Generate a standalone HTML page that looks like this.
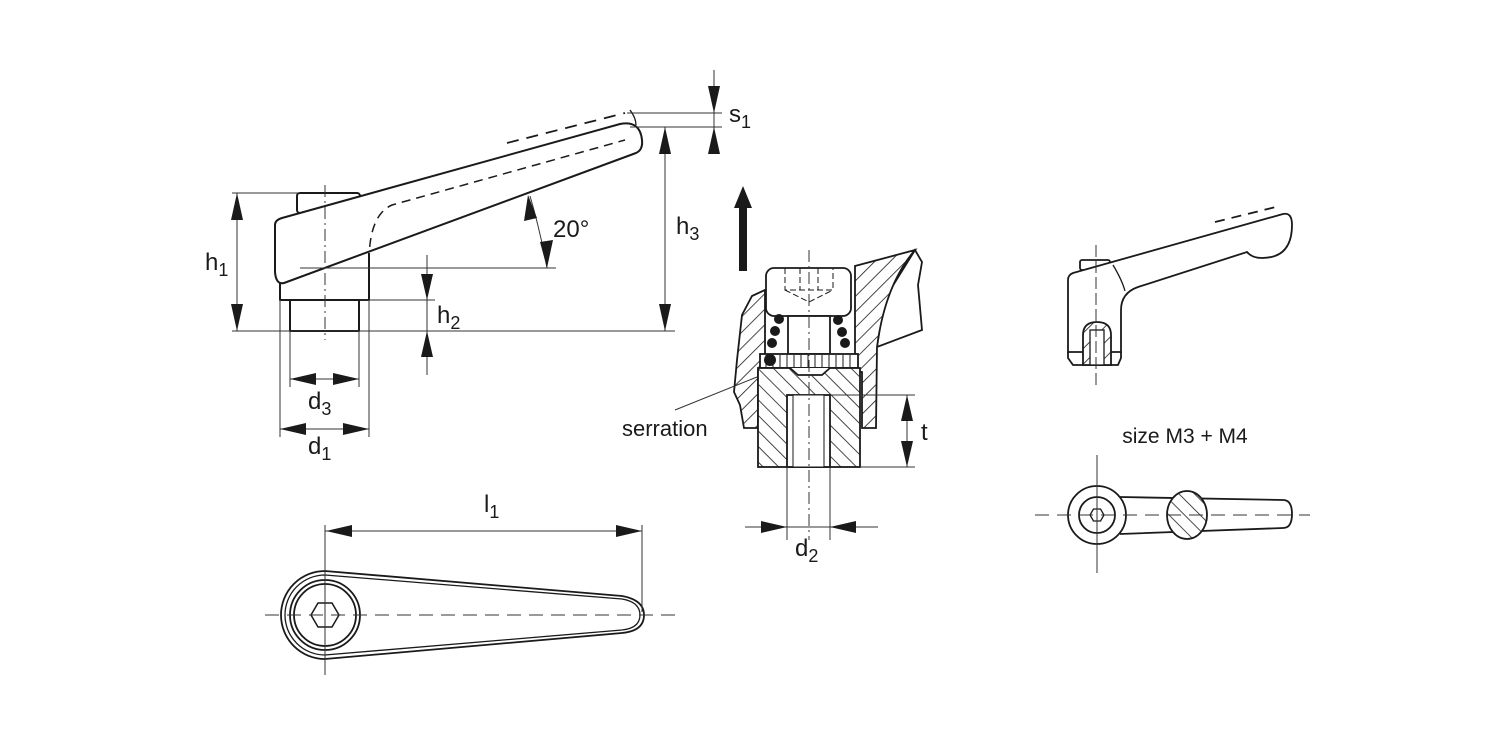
<!DOCTYPE html>
<html><head><meta charset="utf-8"><style>
html,body{margin:0;padding:0;background:#fff;}
svg{display:block}
text{font-family:"Liberation Sans",sans-serif;fill:#1a1a1a}
</style></head><body>
<svg width="1500" height="750" viewBox="0 0 1500 750" xmlns="http://www.w3.org/2000/svg">
<defs>
<pattern id="h" patternUnits="userSpaceOnUse" width="11" height="11" patternTransform="rotate(45)">
<rect width="11" height="11" fill="#fff"/><line x1="0" y1="0" x2="0" y2="11" stroke="#1a1a1a" stroke-width="1.6"/></pattern>
<pattern id="h2" patternUnits="userSpaceOnUse" width="11" height="11" patternTransform="rotate(-45)">
<rect width="11" height="11" fill="#fff"/><line x1="0" y1="0" x2="0" y2="11" stroke="#1a1a1a" stroke-width="1.6"/></pattern>
</defs>
<g fill="none" stroke="#1a1a1a" stroke-width="2" stroke-linejoin="round">
<rect x="297" y="193" width="63" height="20" rx="3" fill="#fff"/>
<path d="M282,218 L620,124 Q640,120 642,140 Q643,150 636,153 L284,283 Q276,285 275,272 L275,225 Q275,220 282,218 Z" fill="#fff"/>
<path d="M280,283 L280,300 L369,300 L369,253"/>
<rect x="290" y="300" width="69" height="31"/>
<path d="M369,262 Q369,215 392,205 L625,140" stroke-width="1.5" stroke-dasharray="9,6"/>
<path d="M507,143 L625,113" stroke-width="1.8" stroke-dasharray="12,8"/>
<path d="M630,110 Q636,118 636,125" stroke-width="1.3"/>
</g>
<g stroke="#333" stroke-width="1" fill="none">
<line x1="325" y1="185" x2="325" y2="340" stroke-dasharray="12,4,2,4"/>
<line x1="232" y1="193" x2="300" y2="193"/>
<line x1="232" y1="331" x2="675" y2="331"/>
<line x1="237" y1="193" x2="237" y2="331"/>
<line x1="300" y1="268" x2="556" y2="268"/>
<path d="M530,196 Q540,230 547,268"/>
<line x1="360" y1="300" x2="435" y2="300"/>
<line x1="427" y1="255" x2="427" y2="375"/>
<line x1="630" y1="127" x2="722" y2="127"/>
<line x1="627" y1="113" x2="722" y2="113"/>
<line x1="665" y1="127" x2="665" y2="331"/>
<line x1="714" y1="70" x2="714" y2="152"/>
<line x1="280" y1="300" x2="280" y2="437"/>
<line x1="369" y1="300" x2="369" y2="437"/>
<line x1="290" y1="331" x2="290" y2="387"/>
<line x1="359" y1="331" x2="359" y2="387"/>
<line x1="290" y1="379" x2="359" y2="379"/>
<line x1="280" y1="429" x2="369" y2="429"/>
</g>
<g fill="#1a1a1a">
<polygon points="237,193 231,220 243,220"/><polygon points="237,331 231,304 243,304"/>
<polygon points="528,195 524,221 537,218"/><polygon points="547,268 540,242 553,240"/>
<polygon points="427,300 421,274 433,274"/><polygon points="427,331 421,357 433,357"/>
<polygon points="665,127 659,154 671,154"/><polygon points="665,331 659,304 671,304"/>
<polygon points="714,113 708,86 720,86"/><polygon points="714,127 708,154 720,154"/>
<polygon points="290,379 316,373 316,385"/><polygon points="359,379 333,373 333,385"/>
<polygon points="280,429 306,423 306,435"/><polygon points="369,429 343,423 343,435"/>
</g>
<text x="205" y="270" font-size="24">h<tspan font-size="18" dy="6">1</tspan></text>
<text x="553" y="237" font-size="24">20°</text>
<text x="437" y="323" font-size="24">h<tspan font-size="18" dy="6">2</tspan></text>
<text x="676" y="234" font-size="24">h<tspan font-size="18" dy="6">3</tspan></text>
<text x="729" y="122" font-size="24">s<tspan font-size="18" dy="6">1</tspan></text>
<text x="308" y="409" font-size="24">d<tspan font-size="18" dy="6">3</tspan></text>
<text x="308" y="454" font-size="24">d<tspan font-size="18" dy="6">1</tspan></text>

<g fill="none" stroke="#1a1a1a" stroke-width="1.8">
<path d="M325,571 L622,596 Q644,600 644,615 Q644,631 622,633 L325,659 A44,44 0 0 1 325,571 Z"/>
<path d="M325,575 L622,599 Q640,602 640,615 Q640,628 622,630 L325,655 A40,40 0 0 1 325,575 Z" stroke-width="1.3"/>
<circle cx="325" cy="615" r="35"/><circle cx="325" cy="615" r="31"/>
<polygon points="311,615 318,603 332,603 339,615 332,627 318,627" stroke-width="1.5"/>
</g>
<g stroke="#333" stroke-width="1" fill="none">
<line x1="265" y1="615" x2="680" y2="615" stroke-dasharray="14,8"/>
<line x1="325" y1="525" x2="325" y2="675"/>
<line x1="642" y1="525" x2="642" y2="612"/>
<line x1="325" y1="531" x2="642" y2="531"/>
</g>
<g fill="#1a1a1a"><polygon points="326,531 352,525 352,537"/><polygon points="642,531 616,525 616,537"/></g>
<text x="484" y="512" font-size="24">l<tspan font-size="18" dy="6">1</tspan></text>

<polygon points="743,186 734,208 739,208 739,271 747,271 747,208 752,208" fill="#1a1a1a"/>
<g stroke="#1a1a1a" stroke-width="1.8">
<polygon points="915,250 922,262 918,285 922,330 877,347 884,300" fill="#fff"/>
<path d="M855,266 L915,250 Q885,285 877,347 L876,428 L862,428 L862,372 L855,372 Z" fill="url(#h)"/>
<polygon points="765,290 752,296 742,315 737,360 734,392 740,405 744,428 758,428 758,370 765,356" fill="url(#h)"/>
<rect x="766" y="268" width="85" height="48" rx="8" fill="#fff"/>
<rect x="788" y="316" width="42" height="38" fill="#fff"/>
<rect x="760" y="354" width="98" height="14" fill="#fff"/>
<rect x="758" y="368" width="102" height="99" fill="url(#h2)"/>
<path d="M790,368 L798,375 L822,375 L830,368" fill="#fff"/>
<rect x="787" y="395" width="43" height="72" fill="#fff"/>
<rect x="793" y="395" width="31" height="72" fill="#fff" stroke-width="1"/>
</g>
<g stroke="#1a1a1a" stroke-width="1">
<line x1="766" y1="355" x2="766" y2="367"/><line x1="773" y1="355" x2="773" y2="367"/><line x1="780" y1="355" x2="780" y2="367"/><line x1="787" y1="355" x2="787" y2="367"/><line x1="794" y1="355" x2="794" y2="367"/><line x1="801" y1="355" x2="801" y2="367"/><line x1="808" y1="355" x2="808" y2="367"/><line x1="815" y1="355" x2="815" y2="367"/><line x1="822" y1="355" x2="822" y2="367"/><line x1="829" y1="355" x2="829" y2="367"/><line x1="836" y1="355" x2="836" y2="367"/><line x1="843" y1="355" x2="843" y2="367"/><line x1="850" y1="355" x2="850" y2="367"/>
<path d="M785,268 L785,290 L833,290 L833,268 M800,268 L800,290 M818,268 L818,290 M785,290 L809,302 L833,290" fill="none" stroke-dasharray="6,3"/>
</g>
<g fill="#1a1a1a">
<circle cx="779" cy="319" r="5"/><circle cx="775" cy="331" r="5"/><circle cx="772" cy="343" r="5"/><circle cx="770" cy="360" r="6"/>
<circle cx="838" cy="320" r="5"/><circle cx="842" cy="332" r="5"/><circle cx="845" cy="343" r="5"/>
</g>
<g stroke="#333" stroke-width="1" fill="none">
<line x1="809" y1="250" x2="809" y2="540" stroke-dasharray="12,4,2,4"/>
<line x1="830" y1="395" x2="915" y2="395"/>
<line x1="860" y1="467" x2="915" y2="467"/>
<line x1="907" y1="395" x2="907" y2="467"/>
<line x1="787" y1="467" x2="787" y2="540"/>
<line x1="830" y1="467" x2="830" y2="540"/>
<line x1="745" y1="527" x2="878" y2="527"/>
<line x1="675" y1="410" x2="757" y2="377"/>
</g>
<g fill="#1a1a1a">
<polygon points="907,395 901,421 913,421"/><polygon points="907,467 901,441 913,441"/>
<polygon points="787,527 761,521 761,533"/><polygon points="830,527 856,521 856,533"/>
</g>
<text x="921" y="440" font-size="24">t</text>
<text x="795" y="556" font-size="24">d<tspan font-size="18" dy="6">2</tspan></text>
<text x="622" y="436" font-size="22">serration</text>

<g fill="none" stroke="#1a1a1a" stroke-width="1.8">
<rect x="1080" y="260" width="30" height="10" rx="2" fill="#fff"/>
<path d="M1073,273 L1283,214 Q1292,212 1292,225 Q1292,258 1262,258 Q1252,258 1247,252 L1138,287 Q1121,293 1121,310 L1121,352 L1068,352 L1068,280 Q1068,275 1073,273 Z" fill="#fff"/>
<path d="M1068,352 L1068,358 L1073,365 L1118,365 L1121,358 L1121,352"/>
<path d="M1113,265 Q1122,280 1125,291" stroke-width="1.3"/>
<path d="M1215,222 L1280,206" stroke-dasharray="10,7"/>
<path d="M1083,352 L1083,335 Q1083,322 1097,322 Q1111,322 1111,335 L1111,365 L1083,365 Z" fill="url(#h)"/>
<rect x="1090" y="330" width="14" height="35" fill="#fff" stroke-width="1.3"/>
</g>
<line x1="1096" y1="245" x2="1096" y2="385" stroke="#333" stroke-width="1" stroke-dasharray="12,4"/>
<text x="1185" y="443" font-size="21" text-anchor="middle">size M3 + M4</text>
<g fill="none" stroke="#1a1a1a" stroke-width="1.8">
<path d="M1120,497 L1283,500 Q1292,500 1292,514 Q1292,528 1283,528 L1120,534"/>
<circle cx="1097" cy="515" r="29" fill="#fff"/>
<circle cx="1097" cy="515" r="18"/>
<polygon points="1090,515 1093.5,509 1100.5,509 1104,515 1100.5,521 1093.5,521" stroke-width="1.3"/>
<ellipse cx="1187" cy="515" rx="20" ry="24" fill="url(#h2)"/>
</g>
<g stroke="#333" stroke-width="1">
<line x1="1035" y1="515" x2="1310" y2="515" stroke-dasharray="14,8"/>
<line x1="1097" y1="455" x2="1097" y2="573"/>
</g>
</svg>
</body></html>
